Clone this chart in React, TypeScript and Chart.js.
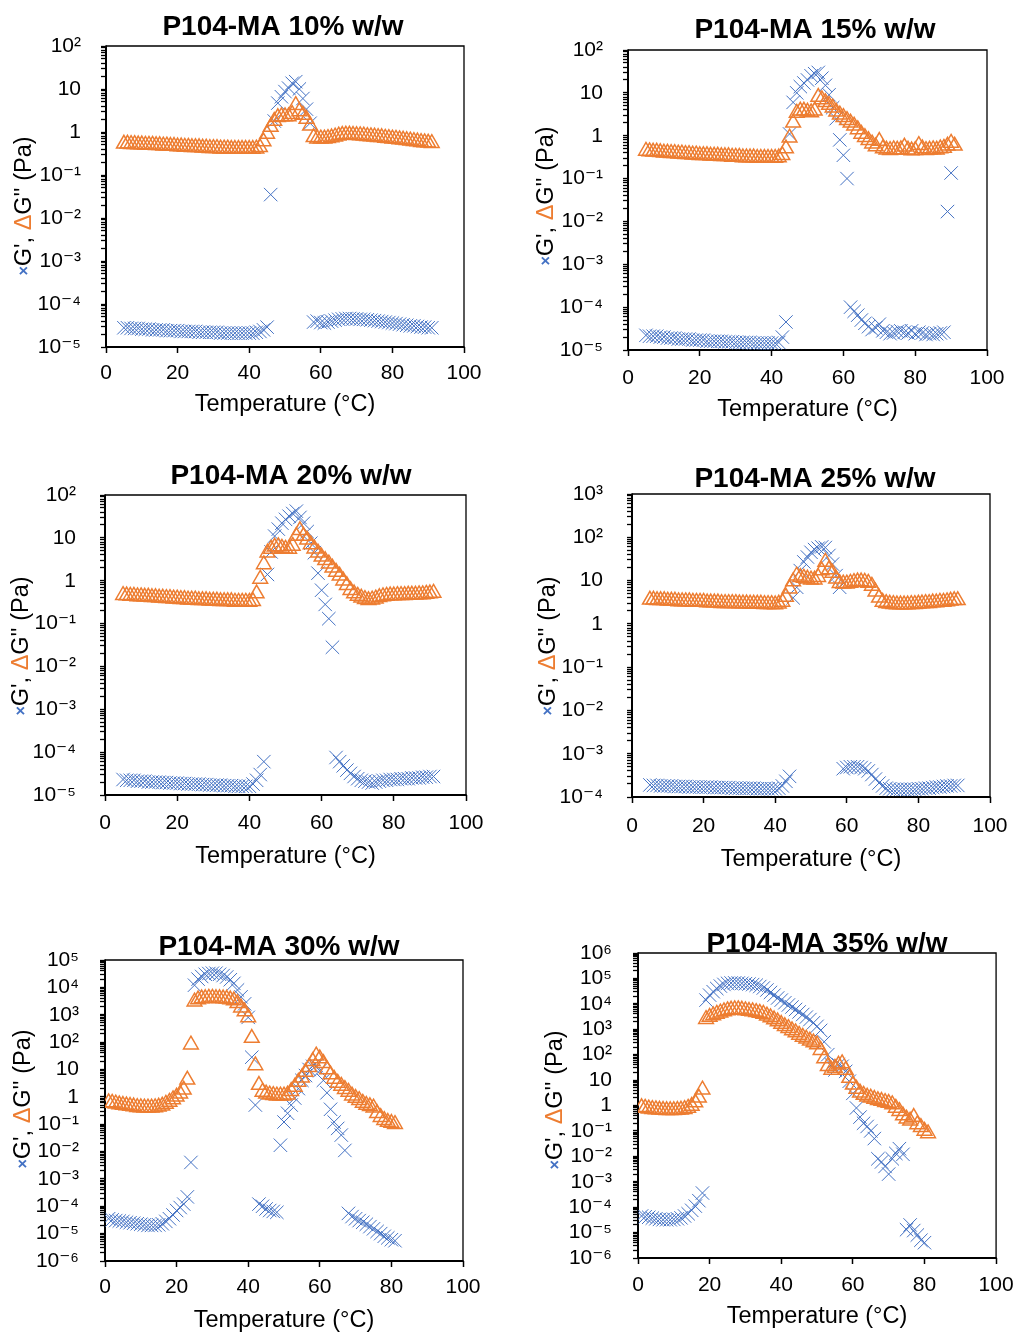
import React, { useEffect, useRef } from 'react';
import { Chart, registerables } from 'chart.js';

Chart.register(...registerables);

const FONT = '"Liberation Sans", Arial, "DejaVu Sans", sans-serif';
const BLUE = '#4472C4';
const ORANGE = '#ED7D31';

// ---------- data ----------
const tempsA = [
  5, 6, 7, 8, 9, 10, 11, 12, 13, 14,
  15, 16, 17, 18, 19, 20, 21, 22, 23, 24,
  25, 26, 27, 28, 29, 30, 31, 32, 33, 34,
  35, 36, 37, 38, 39, 40, 41, 42, 43, 44,
  45, 46, 47, 48, 49, 50, 51, 52, 53, 54,
  55, 56, 57, 58, 59, 60, 61, 62, 63, 64,
  65, 66, 67, 68, 69, 70, 71, 72, 73, 74,
  75, 76, 77, 78, 79, 80, 81, 82, 83, 84,
  85, 86, 87, 88, 89, 90, 91,
];
const tempsB = [
  1, 2, 3, 4, 5, 6, 7, 8, 9, 10,
  11, 12, 13, 14, 15, 16, 17, 18, 19, 20,
  21, 22, 23, 24, 25, 26, 27, 28, 29, 30,
  31, 32, 33, 34, 35, 36, 37, 38, 39, 40,
  41, 42, 43, 44, 45, 46, 47, 48, 49, 50,
  51, 52, 53, 54, 55, 56, 57, 58, 59, 60,
  61, 62, 63, 64, 65, 66, 67, 68, 69, 70,
  71, 72, 73, 74, 75, 76, 77, 78, 79, 80,
  81,
];

// 10 % w/w
const g2_10 = [
  0.53, 0.53, 0.52, 0.52, 0.51, 0.51, 0.5, 0.5, 0.5, 0.49,
  0.49, 0.48, 0.48, 0.47, 0.47, 0.46, 0.46, 0.45, 0.45, 0.44,
  0.44, 0.44, 0.43, 0.43, 0.42, 0.42, 0.42, 0.41, 0.41, 0.41,
  0.4, 0.4, 0.4, 0.4, 0.4, 0.4, 0.4, 0.41, 0.44, 0.6,
  0.9, 1.3, 1.8, 2.2, 2.3, 2.3, 2.3, 2.6, 4.2, 3.0,
  2.5, 2.0, 1.4, 0.75, 0.7, 0.7, 0.7, 0.72, 0.74, 0.78,
  0.82, 0.85, 0.86, 0.86, 0.85, 0.84, 0.83, 0.82, 0.8, 0.79,
  0.78, 0.76, 0.75, 0.73, 0.72, 0.7, 0.69, 0.67, 0.66, 0.64,
  0.63, 0.61, 0.6, 0.58, 0.57, 0.56, 0.55,
];
const g1_10 = [
  2.8e-5, 2.8e-5, 2.7e-5, 2.7e-5, 2.7e-5, 2.6e-5, 2.6e-5, 2.6e-5, 2.5e-5, 2.5e-5,
  2.5e-5, 2.5e-5, 2.4e-5, 2.4e-5, 2.4e-5, 2.4e-5, 2.3e-5, 2.3e-5, 2.3e-5, 2.3e-5,
  2.3e-5, 2.2e-5, 2.2e-5, 2.2e-5, 2.2e-5, 2.2e-5, 2.2e-5, 2.1e-5, 2.1e-5, 2.1e-5,
  2.1e-5, 2.1e-5, 2.1e-5, 2.1e-5, 2.1e-5, 2.1e-5, 2.1e-5, 2.2e-5, 2.3e-5, 2.5e-5,
  2.9e-5, 0.035, 1.8, 4.7, 6.6, 8.7, 10.5, 13.6, 14.8, 10,
  6, 3.4, 1.6, 3.8e-5, 4e-5, 3.7e-5, 3.6e-5, 3.8e-5, 4e-5, 4.2e-5,
  4.4e-5, 4.5e-5, 4.6e-5, 4.6e-5, 4.5e-5, 4.5e-5, 4.4e-5, 4.4e-5, 4.3e-5, 4.2e-5,
  4.1e-5, 4e-5, 3.9e-5, 3.8e-5, 3.7e-5, 3.6e-5, 3.5e-5, 3.4e-5, 3.3e-5, 3.2e-5,
  3.1e-5, 3.1e-5, 3e-5, 2.9e-5, 2.9e-5, 2.8e-5, 2.8e-5,
];

// 15 % w/w
const g2_15 = [
  0.44, 0.43, 0.42, 0.42, 0.41, 0.4, 0.4, 0.39, 0.39, 0.38,
  0.38, 0.37, 0.37, 0.36, 0.36, 0.35, 0.35, 0.35, 0.34, 0.34,
  0.34, 0.33, 0.33, 0.33, 0.32, 0.32, 0.32, 0.31, 0.31, 0.31,
  0.31, 0.3, 0.3, 0.3, 0.3, 0.3, 0.3, 0.31, 0.35, 0.5,
  0.9, 2.0, 3.4, 3.8, 3.8, 3.6, 3.5, 3.8, 8, 7,
  6, 5.2, 4.5, 3.6, 3.1, 2.7, 2.3, 2.0, 1.7, 1.4,
  1.1, 0.92, 0.78, 0.65, 0.56, 0.75, 0.5, 0.47, 0.46, 0.48,
  0.47, 0.48, 0.55, 0.47, 0.45, 0.46, 0.6, 0.5, 0.46, 0.47,
  0.48, 0.47, 0.5, 0.52, 0.58, 0.68, 0.58,
];
const g1_15 = [
  2.2e-5, 2.1e-5, 2.1e-5, 2.1e-5, 2e-5, 2e-5, 1.9e-5, 1.9e-5, 1.9e-5, 1.8e-5,
  1.8e-5, 1.8e-5, 1.8e-5, 1.7e-5, 1.7e-5, 1.7e-5, 1.7e-5, 1.6e-5, 1.6e-5, 1.6e-5,
  1.6e-5, 1.6e-5, 1.55e-5, 1.55e-5, 1.55e-5, 1.5e-5, 1.5e-5, 1.5e-5, 1.5e-5, 1.5e-5,
  1.45e-5, 1.45e-5, 1.45e-5, 1.45e-5, 1.45e-5, 1.45e-5, 1.45e-5, 1.5e-5, 2e-5, 4.5e-5,
  1.1, 6, 10, 14, 17, 20, 25, 28, 30, 22,
  15, 9, 4.5, 2.5, 0.8, 0.35, 0.1, 1e-4, 8e-5, 6.5e-5,
  5e-5, 4.2e-5, 3.5e-5, 3e-5, 3.3e-5, 4e-5, 2.8e-5, 2.6e-5, 2.4e-5, 2.5e-5,
  2.7e-5, 2.8e-5, 2.6e-5, 2.5e-5, 2.8e-5, 2.4e-5, 2.6e-5, 2.5e-5, 2.3e-5, 2.4e-5,
  2.3e-5, 2.4e-5, 2.5e-5, 2.6e-5, 0.017, 0.135, null,
];

// 20 % w/w
const g2_20 = [
  0.46, 0.45, 0.44, 0.44, 0.43, 0.43, 0.42, 0.42, 0.41, 0.41,
  0.4, 0.4, 0.39, 0.39, 0.38, 0.38, 0.37, 0.37, 0.36, 0.36,
  0.36, 0.35, 0.35, 0.35, 0.34, 0.34, 0.34, 0.33, 0.33, 0.33,
  0.33, 0.32, 0.32, 0.32, 0.32, 0.32, 0.33, 0.5, 1.1, 2.4,
  4.5, 5.5, 6.2, 6.3, 5.8, 5.5, 5.5, 6.5, 11, 15,
  11, 9, 7, 5.6, 4.5, 3.6, 3.0, 2.5, 2.0, 1.6,
  1.3, 1.0, 0.78, 0.6, 0.5, 0.44, 0.4, 0.37, 0.35, 0.36,
  0.38, 0.41, 0.43, 0.44, 0.45, 0.45, 0.46, 0.46, 0.46, 0.47,
  0.47, 0.47, 0.48, 0.48, 0.49, 0.5, 0.52,
];
const g1_20 = [
  2.3e-5, 2.2e-5, 2.2e-5, 2.2e-5, 2.1e-5, 2.1e-5, 2.1e-5, 2e-5, 2e-5, 2e-5,
  2e-5, 1.95e-5, 1.95e-5, 1.9e-5, 1.9e-5, 1.9e-5, 1.85e-5, 1.85e-5, 1.8e-5, 1.8e-5,
  1.8e-5, 1.8e-5, 1.75e-5, 1.75e-5, 1.7e-5, 1.7e-5, 1.7e-5, 1.7e-5, 1.65e-5, 1.65e-5,
  1.65e-5, 1.6e-5, 1.6e-5, 1.6e-5, 1.6e-5, 1.6e-5, 1.8e-5, 2.2e-5, 3e-5, 6e-5,
  1.4, 4.7, 11, 16, 22, 27, 32, 37, 42, 30,
  22, 14, 7.5, 4.5, 1.5, 0.6, 0.28, 0.13, 0.028, 7.5e-5,
  6e-5, 4.8e-5, 3.8e-5, 3.2e-5, 2.7e-5, 2.4e-5, 2.2e-5, 2.1e-5, 2e-5, 1.9e-5,
  2e-5, 2.1e-5, 2.2e-5, 2.2e-5, 2.3e-5, 2.3e-5, 2.3e-5, 2.4e-5, 2.4e-5, 2.4e-5,
  2.5e-5, 2.5e-5, 2.5e-5, 2.6e-5, 2.6e-5, 2.7e-5, 2.7e-5,
];

// 25 % w/w
const g2_25 = [
  3.6, 3.6, 3.5, 3.5, 3.5, 3.4, 3.4, 3.4, 3.3, 3.3,
  3.3, 3.3, 3.2, 3.2, 3.2, 3.2, 3.1, 3.1, 3.1, 3.1,
  3.0, 3.0, 3.0, 3.0, 3.0, 2.95, 2.95, 2.95, 2.9, 2.9,
  2.9, 2.9, 2.85, 2.85, 2.85, 2.8, 2.9, 3.2, 4.2, 6.5,
  9.5, 13, 12, 11.5, 11, 10.5, 10.5, 12, 17, 27,
  18, 15, 11, 8.7, 8.5, 8.5, 8.8, 9.2, 9.5, 9.5,
  9.3, 8.8, 7.5, 5.5, 4.0, 3.2, 3.0, 2.9, 2.85, 2.8,
  2.8, 2.8, 2.8, 2.85, 2.85, 2.9, 2.95, 3.0, 3.0, 3.1,
  3.1, 3.2, 3.2, 3.3, 3.4, 3.5, 3.5,
];
const g1_25 = [
  1.9e-4, 1.85e-4, 1.85e-4, 1.8e-4, 1.8e-4, 1.8e-4, 1.8e-4, 1.75e-4, 1.75e-4, 1.75e-4,
  1.75e-4, 1.7e-4, 1.7e-4, 1.7e-4, 1.7e-4, 1.7e-4, 1.7e-4, 1.7e-4, 1.65e-4, 1.65e-4,
  1.65e-4, 1.65e-4, 1.65e-4, 1.6e-4, 1.6e-4, 1.6e-4, 1.6e-4, 1.6e-4, 1.6e-4, 1.6e-4,
  1.55e-4, 1.55e-4, 1.55e-4, 1.55e-4, 1.55e-4, 1.55e-4, 1.6e-4, 1.8e-4, 2.3e-4, 3e-4,
  4, 7, 17, 27, 35, 45, 52, 56, 60, 58,
  38, 24, 13, 7, 4.5e-4, 4.8e-4, 5e-4, 5e-4, 5e-4, 4.8e-4,
  4.5e-4, 4e-4, 3.3e-4, 2.6e-4, 2.1e-4, 1.8e-4, 1.6e-4, 1.55e-4, 1.5e-4, 1.5e-4,
  1.5e-4, 1.5e-4, 1.5e-4, 1.5e-4, 1.5e-4, 1.55e-4, 1.55e-4, 1.6e-4, 1.6e-4, 1.65e-4,
  1.7e-4, 1.7e-4, 1.75e-4, 1.8e-4, 1.8e-4, 1.85e-4, 1.85e-4,
];

// 30 % w/w
const g2_30 = [
  0.62, 0.6, 0.56, 0.52, 0.5, 0.48, 0.46, 0.44, 0.42, 0.41,
  0.4, 0.4, 0.4, 0.41, 0.43, 0.47, 0.55, 0.65, 0.8, 1.0,
  1.3, 1.8, 4.2, 80, 3000, 3600, 3900, 4000, 4100, 4100,
  4000, 4000, 3900, 3800, 3600, 3300, 2600, 1800, 1300, 800,
  140, 14, 2.7, 1.5, 1.3, 1.2, 1.15, 1.1, 1.1, 1.1,
  1.2, 1.6, 2.3, 3.5, 5, 8, 12, 20, 32, 25,
  17, 10, 6.5, 4.5, 3.2, 2.5, 1.9, 1.5, 1.1, 0.9,
  0.75, 0.6, 0.5, 0.45, 0.4, 0.25, 0.18, 0.14, 0.12, 0.11,
  0.1,
];
const g1_30 = [
  3.5e-5, 3.2e-5, 3e-5, 2.9e-5, 2.8e-5, 2.6e-5, 2.5e-5, 2.4e-5, 2.3e-5, 2.2e-5,
  2.1e-5, 2e-5, 2e-5, 2e-5, 2.1e-5, 2.3e-5, 2.8e-5, 3.5e-5, 4.8e-5, 7e-5,
  9e-5, 1.2e-4, 2.2e-4, 4e-3, 12000, 20000, 25000, 30000, 32000, 33000,
  33000, 30000, 27000, 24000, 19000, 14000, 8000, 4500, 2500, 800,
  28, 0.5, 1.2e-4, 1e-4, 8e-5, 7e-5, 6.5e-5, 6e-5, 0.017, 0.12,
  0.25, 0.5, 0.9, 2.0, 4, 6, 10, 13, 14, 9,
  4, 1.4, 0.35, 0.12, 0.07, 0.04, 0.011, 5.5e-5, 4.2e-5, 3.5e-5,
  3e-5, 2.6e-5, 2.2e-5, 1.8e-5, 1.5e-5, 1.2e-5, 1e-5, 8e-6, 7e-6, 6e-6,
  5.5e-6,
];

// 35 % w/w
const g2_35 = [
  0.85, 0.8, 0.75, 0.72, 0.7, 0.68, 0.66, 0.65, 0.65, 0.65,
  0.66, 0.68, 0.72, 0.8, 0.95, 1.3, 2.0, 4.2, 2500, 3000,
  3500, 4000, 4500, 5000, 5500, 5800, 6000, 6000, 5800, 5500,
  5200, 5000, 4700, 4400, 4000, 3400, 2900, 2400, 2000, 1600,
  1300, 1100, 900, 750, 600, 500, 420, 350, 300, 250,
  150, 70, 35, 25, 30, 40, 45, 25, 12, 6.5,
  4.5, 3.2, 2.6, 2.2, 2.0, 1.8, 1.6, 1.5, 1.35, 1.25,
  1.1, 0.8, 0.6, 0.4, 0.3, 0.25, 0.35, 0.18, 0.14, 0.1,
  0.08,
];
const g1_35 = [
  4.5e-5, 4.2e-5, 4e-5, 3.7e-5, 3.5e-5, 3.3e-5, 3.2e-5, 3.2e-5, 3.2e-5, 3.3e-5,
  3.5e-5, 3.8e-5, 4.5e-5, 5.5e-5, 7.5e-5, 1.1e-4, 1.8e-4, 3.6e-4, 14000, 22000,
  30000, 40000, 50000, 58000, 64000, 66000, 67000, 66000, 64000, 62000,
  60000, 57000, 54000, 48000, 42000, 35000, 28000, 22000, 17000, 14000,
  11000, 9000, 7500, 6000, 4800, 3800, 3000, 2400, 1800, 1300,
  900, 320, 100, 40, 25, 40, 35, 22, 9, 3,
  0.8, 0.35, 0.2, 0.15, 0.1, 0.05, 0.008, 0.006, 0.004, 0.002,
  0.008, 0.013, 0.02, 0.012, 1.3e-5, 2e-5, 1.2e-5, 8e-6, 5e-6, 4e-6,
  null,
];

const panelTitles = [
  'P104-MA 10% w/w',
  'P104-MA 15% w/w',
  'P104-MA 20% w/w',
  'P104-MA 25% w/w',
  'P104-MA 30% w/w',
  'P104-MA 35% w/w',
];
const panelTemps = [tempsA, tempsA, tempsA, tempsA, tempsB, tempsB];
const panelG1 = [g1_10, g1_15, g1_20, g1_25, g1_30, g1_35];
const panelG2 = [g2_10, g2_15, g2_20, g2_25, g2_30, g2_35];
const yMins = [1e-5, 1e-5, 1e-5, 1e-4, 1e-6, 1e-6];
const yMaxs = [1e2, 1e2, 1e2, 1e3, 1e5, 1e6];
const xTickValues = [0, 20, 40, 60, 80, 100];
const xAxisTitle = 'Temperature (°C)';
const yTitleParts = [
  { text: '×', color: BLUE, font: `bold 16px ${FONT}` },
  { text: "G', ", color: '#000', font: `23.5px ${FONT}` },
  { text: 'Δ', color: ORANGE, font: `23.5px ${FONT}` },
  { text: "G'' (Pa)", color: '#000', font: `23.5px ${FONT}` },
];

// ---------- layout (page coordinates) ----------
const LAYOUT = [
  { cx: 0, cy: 0, cw: 511, ch: 440, L: 106, R: 464, T: 46, B: 347, tX: 283, tY: 27, xTickY: 373, xTitleY: 405, yTX: 25, yTY: 206, yLabR: 81 },
  { cx: 511, cy: 0, cw: 511, ch: 440, L: 628, R: 987, T: 50, B: 350, tX: 815, tY: 30, xTickY: 378, xTitleY: 410, yTX: 547, yTY: 196, yLabR: 603 },
  { cx: 0, cy: 440, cw: 511, ch: 465, L: 105, R: 466, T: 495, B: 795, tX: 291, tY: 476, xTickY: 823, xTitleY: 857, yTX: 22, yTY: 646, yLabR: 76 },
  { cx: 511, cy: 440, cw: 511, ch: 465, L: 632, R: 990, T: 494, B: 797, tX: 815, tY: 479, xTickY: 826, xTitleY: 860, yTX: 549, yTY: 646, yLabR: 603 },
  { cx: 0, cy: 905, cw: 511, ch: 431, L: 105, R: 463, T: 960, B: 1261, tX: 279, tY: 947, xTickY: 1287, xTitleY: 1321, yTX: 24, yTY: 1099, yLabR: 79 },
  { cx: 511, cy: 905, cw: 511, ch: 431, L: 638, R: 1001, T: 953, B: 1258, tX: 827, tY: 944, xTickY: 1285, xTitleY: 1317, yTX: 556, yTY: 1100, yLabR: 612 },
];

const SUP: Record<string, string> = {
  '-': '⁻', '0': '⁰', '1': '¹', '2': '²', '3': '³', '4': '⁴',
  '5': '⁵', '6': '⁶', '7': '⁷', '8': '⁸', '9': '⁹',
};
function decadeLabel(e: number): string {
  if (e === 0) return '1';
  if (e === 1) return '10';
  return '10' + String(e).split('').map((c) => SUP[c]).join('');
}

function makeDecor(idx: number) {
  const g = LAYOUT[idx];
  return {
    id: 'decor' + idx,
    beforeDraw(chart: any) {
      const ctx = chart.ctx as CanvasRenderingContext2D;
      ctx.save();
      ctx.fillStyle = '#000';
      ctx.font = `bold 28px ${FONT}`;
      ctx.textAlign = 'center';
      ctx.textBaseline = 'middle';
      ctx.fillText(panelTitles[idx], g.tX - g.cx, g.tY - g.cy);
      ctx.translate(g.yTX - g.cx, g.yTY - g.cy);
      ctx.rotate(-Math.PI / 2);
      ctx.textAlign = 'left';
      let total = 0;
      const widths = yTitleParts.map((p) => {
        ctx.font = p.font;
        const w = ctx.measureText(p.text).width;
        total += w;
        return w;
      });
      let x = -total / 2;
      yTitleParts.forEach((p, i) => {
        ctx.font = p.font;
        ctx.fillStyle = p.color;
        ctx.fillText(p.text, x, 0);
        x += widths[i];
      });
      ctx.restore();
    },
    beforeDatasetsDraw(chart: any) {
      const ctx = chart.ctx as CanvasRenderingContext2D;
      const a = chart.chartArea;
      ctx.save();
      ctx.fillStyle = '#fff';
      ctx.fillRect(a.left, a.top, a.right - a.left, a.bottom - a.top);
      ctx.strokeStyle = '#000';
      ctx.lineWidth = 1.3;
      ctx.beginPath();
      ctx.moveTo(a.left, a.top);
      ctx.lineTo(a.right, a.top);
      ctx.lineTo(a.right, a.bottom);
      ctx.stroke();
      ctx.lineWidth = 2;
      ctx.beginPath();
      ctx.moveTo(a.left, a.top - 0.6);
      ctx.lineTo(a.left, a.bottom);
      ctx.lineTo(a.right + 0.6, a.bottom);
      ctx.stroke();
      ctx.restore();
    },
  };
}

function buildConfig(idx: number): any {
  const g = LAYOUT[idx];
  const W = g.L - g.cx;
  const padR = g.cw - (g.R - g.cx);
  const padT = g.T - g.cy;
  const H = g.cy + g.ch - g.B;
  const xTickPad = g.xTickY - g.B - 6 - 12.6;
  const xTitlePadBottom = g.cy + g.ch - g.xTitleY - 14.1;
  const yTickPad = g.L - g.yLabR - 5;
  const minE = Math.round(Math.log10(yMins[idx]));
  const maxE = Math.round(Math.log10(yMaxs[idx]));
  const temps = panelTemps[idx];
  const toPoints = (arr: (number | null)[]) =>
    temps
      .map((t, i) => ({ x: t, y: arr[i] }))
      .filter((p) => p.y !== null && p.y !== undefined);

  return {
    type: 'scatter',
    data: {
      datasets: [
        {
          label: "G''",
          data: toPoints(panelG2[idx]),
          showLine: false,
          pointStyle: 'triangle',
          pointRadius: 8.5,
          pointHoverRadius: 8.5,
          pointBorderWidth: 1.5,
          pointBorderColor: ORANGE,
          pointBackgroundColor: 'rgba(0,0,0,0)',
          borderColor: ORANGE,
          backgroundColor: 'rgba(0,0,0,0)',
        },
        {
          label: "G'",
          data: toPoints(panelG1[idx]),
          showLine: false,
          pointStyle: 'crossRot',
          pointRadius: 9.5,
          pointHoverRadius: 9.5,
          pointBorderWidth: 1,
          pointBorderColor: BLUE,
          pointBackgroundColor: 'rgba(0,0,0,0)',
          borderColor: BLUE,
          backgroundColor: 'rgba(0,0,0,0)',
        },
      ],
    },
    options: {
      responsive: false,
      maintainAspectRatio: false,
      animation: false,
      events: [],
      layout: { padding: { left: 0, right: padR, top: padT, bottom: 0 } },
      plugins: {
        legend: { display: false },
        tooltip: { enabled: false },
        title: { display: false },
      },
      scales: {
        x: {
          type: 'linear',
          position: 'bottom',
          min: 0,
          max: 100,
          afterBuildTicks: (s: any) => {
            s.ticks = xTickValues.map((v) => ({ value: v }));
          },
          afterFit: (s: any) => {
            s.height = H;
          },
          grid: {
            display: true,
            drawOnChartArea: false,
            drawTicks: true,
            tickLength: 6,
            tickColor: '#000',
            tickWidth: 1.5,
          },
          border: { display: false },
          ticks: {
            color: '#000',
            font: { family: FONT, size: 21 },
            padding: xTickPad,
            maxRotation: 0,
            autoSkip: false,
            callback: (v: any) => String(v),
          },
          title: {
            display: true,
            text: xAxisTitle,
            color: '#000',
            font: { family: FONT, size: 23.5 },
            padding: { top: 0, bottom: xTitlePadBottom },
          },
        },
        y: {
          type: 'logarithmic',
          position: 'left',
          min: yMins[idx],
          max: yMaxs[idx],
          afterBuildTicks: (s: any) => {
            const t: { value: number }[] = [];
            for (let e = minE; e < maxE; e++) {
              for (let k = 1; k <= 9; k++) t.push({ value: k * Math.pow(10, e) });
            }
            t.push({ value: Math.pow(10, maxE) });
            s.ticks = t;
          },
          afterFit: (s: any) => {
            s.width = W;
          },
          grid: {
            display: true,
            drawOnChartArea: false,
            drawTicks: true,
            tickLength: 5,
            tickColor: '#000',
            tickWidth: 1.3,
          },
          border: { display: false },
          ticks: {
            color: '#000',
            font: { family: FONT, size: 21 },
            padding: yTickPad,
            autoSkip: false,
            major: { enabled: false },
            callback: (v: any) => {
              const val = Number(v);
              const e = Math.round(Math.log10(val));
              return Math.abs(val / Math.pow(10, e) - 1) < 1e-6 ? decadeLabel(e) : '';
            },
          },
        },
      },
    },
    plugins: [makeDecor(idx)],
  };
}

function Panel({ idx }: { idx: number }) {
  const ref = useRef<HTMLCanvasElement | null>(null);
  useEffect(() => {
    if (!ref.current) return;
    const chart = new Chart(ref.current, buildConfig(idx));
    return () => chart.destroy();
  }, [idx]);
  const g = LAYOUT[idx];
  return (
    <canvas
      ref={ref}
      width={g.cw}
      height={g.ch}
      style={{ position: 'absolute', left: g.cx, top: g.cy, width: g.cw, height: g.ch, display: 'block' }}
    />
  );
}

export default function App() {
  return (
    <div style={{ position: 'absolute', left: 0, top: 0, width: 1022, height: 1336, background: '#fff', overflow: 'hidden' }}>
      {[0, 1, 2, 3, 4, 5].map((i) => (
        <Panel key={i} idx={i} />
      ))}
    </div>
  );
}
